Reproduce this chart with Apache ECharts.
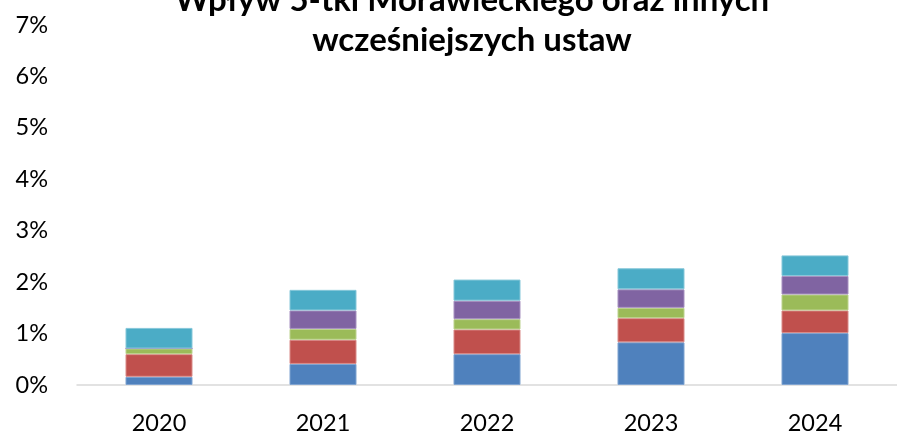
<!DOCTYPE html>
<html>
<head>
<meta charset="utf-8">
<script src="https://cdn.jsdelivr.net/npm/echarts@6/dist/echarts.min.js"></script>
<style>html,body{margin:0;padding:0;background:#fff;}#c{width:897px;height:435px;}</style>
</head>
<body>
<div id="c"></div>
<script>
const categories = ['2020', '2021', '2022', '2023', '2024'];
const seriesBlue = [0.16, 0.41, 0.60, 0.83, 1.01];
const seriesRed = [0.44, 0.47, 0.48, 0.47, 0.44];
const seriesGreen = [0.11, 0.21, 0.20, 0.20, 0.31];
const seriesPurple = [0.00, 0.36, 0.36, 0.36, 0.36];
const seriesTeal = [0.40, 0.40, 0.41, 0.41, 0.40];
const yTicks = [0, 1, 2, 3, 4, 5, 6, 7];
const titleText = 'Wpływ 5-tki Morawieckiego oraz innych\nwcześniejszych ustaw';

const colors = ['#4F81BD', '#C0504D', '#9BBB59', '#8064A2', '#4BACC6'];
const borders = ['#7FA3D0', '#D98A88', '#BCD28E', '#A791C0', '#86C7D9'];
const data = [seriesBlue, seriesRed, seriesGreen, seriesPurple, seriesTeal];

const chart = echarts.init(document.getElementById('c'), null, {renderer: 'canvas'});
chart.setOption({
  animation: false,
  backgroundColor: '#ffffff',
  title: {
    text: titleText,
    left: 467,
    top: -25,
    textAlign: 'center',
    textStyle: {
      fontFamily: 'Lato',
      fontWeight: 'bold',
      fontSize: 33,
      lineHeight: 40,
      color: '#000000'
    }
  },
  grid: {left: 77, width: 834, top: 25, bottom: 49, containLabel: false},
  xAxis: {
    type: 'category',
    data: categories,
    axisLine: {show: true, lineStyle: {color: '#D9D9D9', width: 1.5}},
    axisTick: {show: false},
    axisLabel: {fontFamily: 'Lato', fontSize: 23.5, color: '#000000', margin: 26}
  },
  yAxis: {
    type: 'value',
    min: yTicks[0],
    max: yTicks[yTicks.length - 1],
    interval: 1,
    axisLine: {show: false},
    axisTick: {show: false},
    splitLine: {show: false},
    axisLabel: {
      fontFamily: 'Lato', fontSize: 23.5, color: '#000000', margin: 29,
      formatter: v => v + '%'
    }
  },
  series: data.map((d, i) => ({
    type: 'bar',
    stack: 'total',
    data: d,
    barWidth: 67,
    itemStyle: {color: colors[i], borderColor: borders[i], borderWidth: 1}
  }))
});
</script>
</body>
</html>
